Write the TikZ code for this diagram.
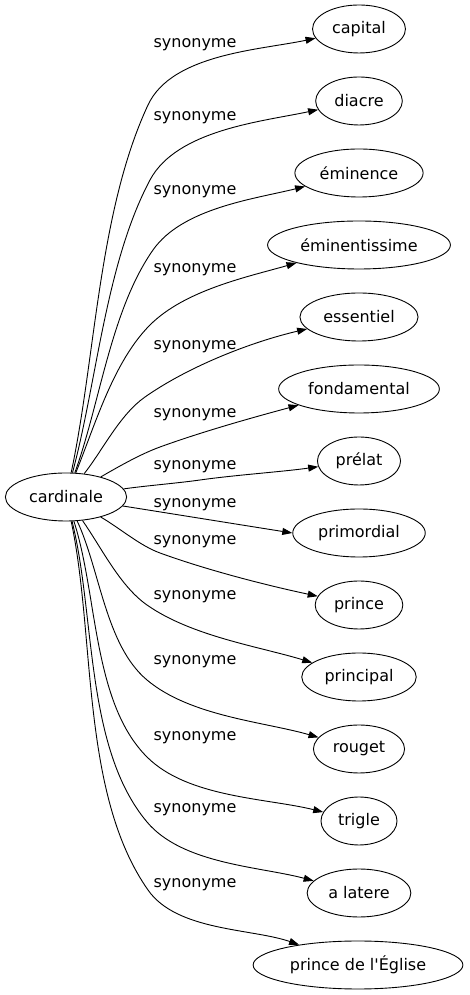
\documentclass[tikz,border=0pt]{standalone}
\usepackage{fontspec}
\setmainfont{DejaVu Sans}[Ligatures=TeXOff]
\usetikzlibrary{shapes.geometric,arrows.meta}

\begin{document}
\begin{tikzpicture}[x=1pt,y=1pt,
    word/.style ={ellipse, draw, line width=0.9pt, minimum height=48pt,
                  inner xsep=6pt, inner ysep=2pt, font=\fontsize{16}{19}\selectfont},
    rel/.style ={font=\fontsize{16}{19}\selectfont, inner sep=0pt},
    arc/.style ={line width=0.9pt, looseness=0.8, -{Triangle[length=10pt,width=7pt]}}]
   \useasboundingbox (0,0) rectangle (470,995);

   \node[word] (cardinale)     at (66,498)  {cardinale};
   \node[word] (capital)       at (359,966) {capital};
   \node[word] (diacre)        at (359,894) {diacre};
   \node[word] (eminence)      at (359,822) {éminence};
   \node[word] (eminentissime) at (359,750) {éminentissime};
   \node[word] (essentiel)     at (359,678) {essentiel};
   \node[word] (fondamental)   at (359,606) {fondamental};
   \node[word] (prelat)        at (359,534) {prélat};
   \node[word] (primordial)    at (359,462) {primordial};
   \node[word] (prince)        at (359,390) {prince};
   \node[word] (principal)     at (359,318) {principal};
   \node[word] (rouget)        at (359,246) {rouget};
   \node[word] (trigle)        at (359,174) {trigle};
   \node[word] (alatere)       at (359,102) {a latere};
   \node[word] (eglise)        at (358,30)  {prince de l'Église};

   \node[rel] (l1)  at (195,950) {synonyme};
   \node[rel] (l2)  at (195,877) {synonyme};
   \node[rel] (l3)  at (195,803) {synonyme};
   \node[rel] (l4)  at (195,725) {synonyme};
   \node[rel] (l5)  at (195,648) {synonyme};
   \node[rel] (l6)  at (195,580) {synonyme};
   \node[rel] (l7)  at (195,528) {synonyme};
   \node[rel] (l8)  at (195,490) {synonyme};
   \node[rel] (l9)  at (195,453) {synonyme};
   \node[rel] (l10) at (195,398) {synonyme};
   \node[rel] (l11) at (195,333) {synonyme};
   \node[rel] (l12) at (195,257) {synonyme};
   \node[rel] (l13) at (195,185) {synonyme};
   \node[rel] (l14) at (195,110) {synonyme};

   \draw[arc] (cardinale) to[out=78,in=245] (148,890) to[out=65,in=192] (capital);
   \draw[arc] (cardinale) to[out=75,in=242] (150,815) to[out=62,in=192] (diacre);
   \draw[arc] (cardinale) to[out=70,in=235] (153,745) to[out=55,in=194] (eminence);
   \draw[arc] (cardinale) to[out=68,in=225] (150,670) to[out=45,in=196] (eminentissime);
   \draw[arc] (cardinale) to[out=52,in=215] (145,598) to[out=35,in=193] (essentiel);
   \draw[arc] (cardinale) to[out=30,in=200] (160,548) to[out=20,in=195] (fondamental);
   \draw[arc] (cardinale) to[out=8,in=188] (200,515) to[out=8,in=188] (prelat);
   \draw[arc] (cardinale) to[out=-9,in=171] (primordial.west);
   \draw[arc] (cardinale) to[out=-30,in=160] (160,442) to[out=-20,in=168] (prince);
   \draw[arc] (cardinale) to[out=-55,in=145] (147,390) to[out=-35,in=163] (principal);
   \draw[arc] (cardinale) to[out=-65,in=140] (147,315) to[out=-40,in=164] (rouget);
   \draw[arc] (cardinale) to[out=-72,in=135] (147,238) to[out=-45,in=166] (trigle);
   \draw[arc] (cardinale) to[out=-76,in=130] (147,173) to[out=-50,in=165] (alatere);
   \draw[arc] (cardinale) to[out=-78,in=125] (148,105) to[out=-55,in=161] (eglise);
 \end{tikzpicture}
\end{document}
